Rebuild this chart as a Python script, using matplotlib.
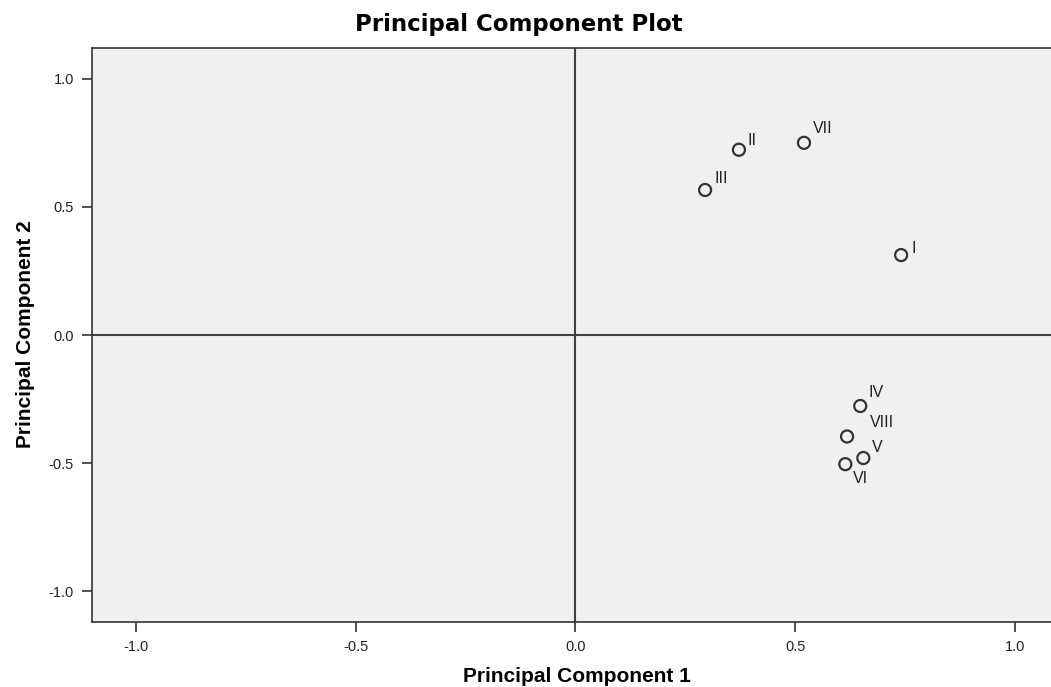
import matplotlib
matplotlib.use("Agg")
import matplotlib.pyplot as plt

labels = ["I", "II", "III", "IV", "V", "VI", "VII", "VIII"]
pc1 = [0.741, 0.372, 0.295, 0.648, 0.655, 0.614, 0.520, 0.618]
pc2 = [0.312, 0.723, 0.566, -0.277, -0.480, -0.504, 0.750, -0.396]
# label offsets in pixels (dx right, dy up to baseline)
offsets = {"I": (10, 2), "II": (9, 5), "III": (9, 7), "VII": (9, 10),
           "IV": (8, 9), "VIII": (23, 9), "V": (9, 6), "VI": (8, -19)}

plt.rcParams['font.family'] = ['Liberation Sans', 'DejaVu Sans']

fig = plt.figure(figsize=(10.51, 6.87), dpi=100)
ax = fig.add_axes([0.0875, 0.0946, 0.9125, 0.8355])
ax.set_facecolor("#f0f0f0")
ax.set_xlim(-1.1, 1.082)
ax.set_ylim(-1.12, 1.12)

ax.axhline(0, color="#404040", lw=1.5, zorder=1)
ax.axvline(0, color="#404040", lw=1.5, zorder=1)

ax.scatter(pc1, pc2, s=75, facecolors="none", edgecolors="#333333", linewidths=1.6, zorder=3)
for lab, x, y in zip(labels, pc1, pc2):
    dx, dy = offsets[lab]
    ax.annotate(lab, (x, y), xytext=(dx, dy), textcoords="offset pixels",
                fontsize=11.5, color="#222222", ha="left", va="baseline")

ticks = [-1.0, -0.5, 0.0, 0.5, 1.0]
ax.set_xticks(ticks)
ax.set_yticks(ticks)
ax.set_xticklabels([f"{t:.1f}" for t in ticks])
ax.set_yticklabels([f"{t:.1f}" for t in ticks])
ax.tick_params(direction="out", length=7, width=1.2, color="#333333", labelsize=10.5, labelcolor="#222222", pad=6)

for s in ["left", "bottom", "top"]:
    ax.spines[s].set_color("#333333")
    ax.spines[s].set_linewidth(1.2)
ax.spines["right"].set_visible(False)

fig.text(577 / 1051, 1 - 676 / 687, "Principal Component 1", fontsize=15,
         fontweight="bold", ha="center", va="center")
fig.text(26 / 1051, 1 - 334 / 687, "Principal Component 2", fontsize=15,
         fontweight="bold", ha="center", va="center", rotation=90)
fig.text(519 / 1051, 1 - 24 / 687, "Principal Component Plot", fontsize=16.5,
         fontweight="bold", family="DejaVu Sans", ha="center", va="center")

fig.savefig("out.png", dpi=100)
